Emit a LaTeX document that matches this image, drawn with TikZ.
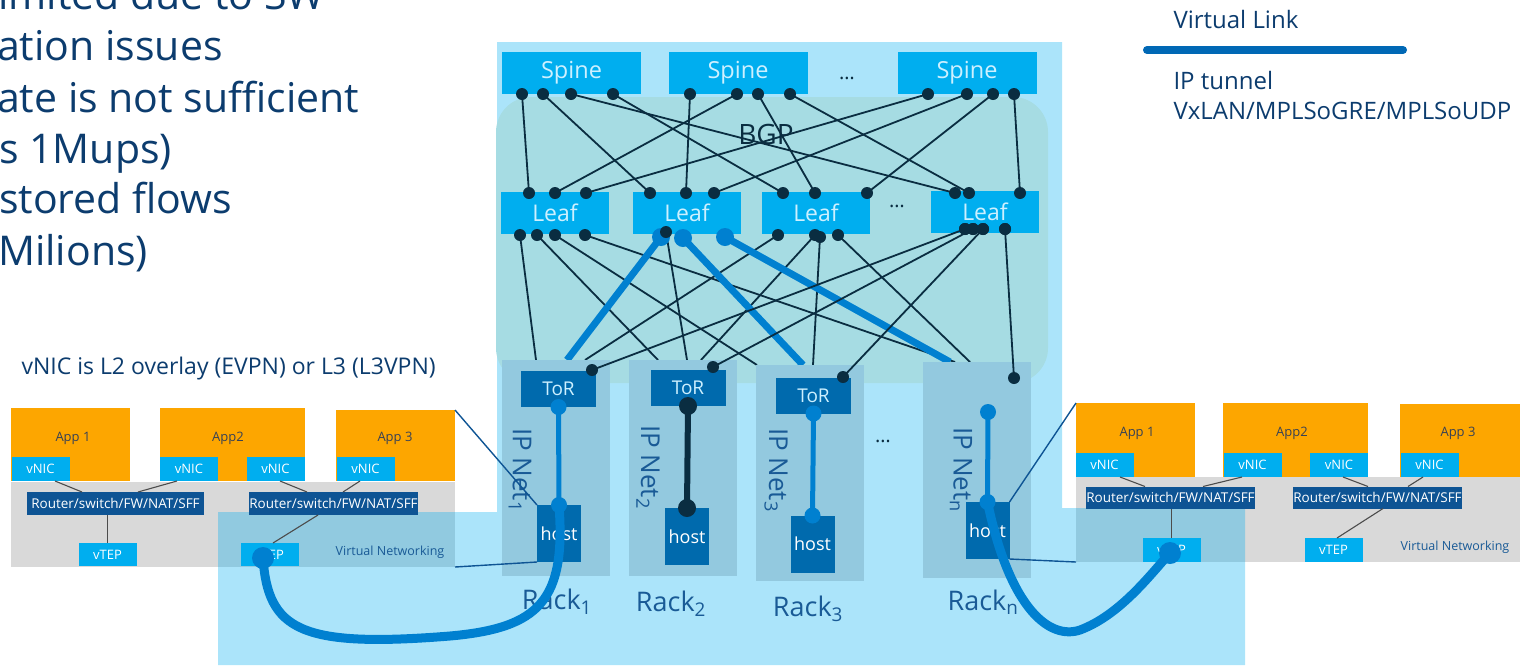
\documentclass[tikz,border=0pt]{standalone}
\usepackage{fontspec}
\setmainfont{Open Sans}
\usetikzlibrary{calc}

\definecolor{cyanbox}{RGB}{0,174,239}
\definecolor{navydot}{RGB}{10,45,65}
\definecolor{linkblue}{RGB}{0,128,208}
\definecolor{legendblue}{RGB}{0,104,181}
\definecolor{torblue}{RGB}{0,106,173}
\definecolor{routerblue}{RGB}{14,84,148}
\definecolor{bgpfill}{RGB}{166,220,227}
\definecolor{rackfill}{RGB}{147,201,223}
\definecolor{appfill}{RGB}{253,166,0}
\definecolor{greyfill}{RGB}{217,217,217}
\definecolor{textnavy}{RGB}{12,60,110}
\definecolor{racktext}{RGB}{25,90,150}
\definecolor{lighttext}{RGB}{205,240,255}
\definecolor{apptext}{RGB}{55,65,85}

\tikzset{
  box/.style={inner sep=0pt, outer sep=0pt},
  spinebox/.style={box, fill=cyanbox, text=lighttext, minimum width=139pt, minimum height=42pt, font=\fontsize{23.5}{26}\selectfont},
  leafbox/.style={box, fill=cyanbox, text=lighttext, minimum width=108pt, minimum height=42pt, font=\fontsize{23}{26}\selectfont},
  rackbox/.style={box, fill=rackfill, minimum width=108pt, minimum height=216pt},
  torbox/.style={box, fill=torblue, text=lighttext, minimum width=75pt, minimum height=36pt, font=\fontsize{19}{22}\selectfont},
  hostbox/.style={box, fill=torblue, text=white, minimum width=44pt, minimum height=57pt, font=\fontsize{18}{22}\selectfont},
  appbox/.style={box, fill=appfill, minimum height=73pt},
  appname/.style={text=apptext, font=\fontsize{13}{15}\selectfont},
  nicbox/.style={box, fill=cyanbox, text=white, minimum width=58pt, minimum height=24pt, font=\fontsize{13}{15}\selectfont},
  routerbox/.style={box, fill=routerblue, text=white, minimum width=169pt, minimum height=22pt, font=\fontsize{13.5}{15}\selectfont},
  vnbox/.style={box, fill=greyfill, minimum width=444pt, minimum height=85pt},
  vnname/.style={text=racktext, font=\fontsize{12.5}{14}\selectfont},
  racklabel/.style={text=racktext, font=\fontsize{27}{30}\selectfont},
  netlabel/.style={text=racktext, rotate=-90, font=\fontsize{26}{30}\selectfont},
  dotsname/.style={text=navydot, font=\fontsize{20}{22}\selectfont},
  legendtext/.style={anchor=west, text=textnavy, font=\fontsize{24}{28}\selectfont},
  wire/.style={navydot, line width=1.8pt},
  vlink/.style={linkblue, line width=7pt},
  tunnel/.style={linkblue, line width=9pt},
  thinwire/.style={black!70, line width=1.1pt},
  zoomwire/.style={routerblue, line width=1.4pt},
}

\begin{document}
\begin{tikzpicture}[x=1pt,y=-1pt]
\useasboundingbox (0,0) rectangle (1536,665);

% cut-off bullet text
\begin{scope}[every node/.style={anchor=base west, inner sep=0pt, text=textnavy, font=\fontsize{41}{51}\selectfont}]
\node (b1) at (-2,9) {imited due to SW};
\node (b2) at (-3,60) {ation issues};
\node (b3) at (-3,112) {ate is not sufficient};
\node (b4) at (-1,163) {s 1Mups)};
\node (b5) at (-1,213) {stored flows};
\node (b6) at (-2,265) {Milions)};
\end{scope}

% legend
\node[legendtext] (vlname) at (1170,19) {Virtual Link};
\coordinate (legA) at (1147,50);
\coordinate (legB) at (1403,50);
\draw[legendblue, line width=8pt, line cap=round] (legA) -- (legB);
\node[legendtext] (tun1) at (1170,80) {IP tunnel};
\node[legendtext] (tun2) at (1170,111) {VxLAN/MPLSoGRE/MPLSoUDP};

% virtual networking boxes
\node[vnbox] (vnL) at (233,524.5) {};
\node[vnbox] (vnR) at (1298,519.5) {};

% data centre area
\fill[cyanbox, opacity=0.33] (497,42) -- (1062,42) -- (1062,508) -- (1245,508)
  -- (1245,665) -- (218,665) -- (218,512) -- (497,512) -- cycle;
\node[box, fill=bgpfill, rounded corners=35pt, minimum width=552pt, minimum height=286pt] (bgp) at (772,240) {};
\node[text=navydot, font=\fontsize{28}{32}\selectfont] (bgpname) at (766,134) {BGP};

% left virtual networking
\node[anchor=west, text=textnavy, font=\fontsize{23}{26}\selectfont] (note) at (18,369) {vNIC is L2 overlay (EVPN) or L3 (L3VPN)};
\node[appbox, minimum width=119pt] (appL1) at (70.5,444.5) {};
\node[appbox, minimum width=145pt] (appL2) at (232.5,444.5) {};
\node[appbox, minimum width=119pt, minimum height=71pt] (appL3) at (395.5,445.5) {};
\node[appname] (appL1t) at (73,438) {App 1};
\node[appname] (appL2t) at (228,438) {App2};
\node[appname] (appL3t) at (395,438) {App 3};
\node[nicbox] (nicL1) at (40.5,469) {vNIC};
\node[nicbox] (nicL2) at (189,469) {vNIC};
\node[nicbox] (nicL3) at (275.5,469) {vNIC};
\node[nicbox] (nicL4) at (365.5,469) {vNIC};
\node[routerbox, minimum width=177pt, minimum height=23pt] (rtL1) at (115.5,503.5) {Router/switch/FW/NAT/SFF};
\node[routerbox, minimum height=23pt] (rtL2) at (333.5,503.5) {Router/switch/FW/NAT/SFF};
\node[nicbox, minimum height=23pt] (tepL1) at (107.5,554.5) {vTEP};
\node[nicbox, minimum height=23pt] (tepL2) at (269.5,554.5) {vTEP};
\node[vnname] (vnLt) at (390,552) {Virtual Networking};
\draw[thinwire] ([xshift=14.5pt]nicL1.south) -- ([xshift=-33.5pt]rtL1.north);
\draw[thinwire] ([xshift=-12pt]nicL2.south) -- ([xshift=22.5pt]rtL1.north);
\draw[thinwire] (tepL1.north) -- (tepL1.north |- rtL1.south);
\draw[thinwire] ([xshift=4.5pt]nicL3.south) -- ([xshift=-26.5pt]rtL2.north);
\draw[thinwire] ([xshift=-5.5pt]nicL4.south) -- ([xshift=9.5pt]rtL2.north);
\draw[thinwire] ([xshift=-15.5pt]rtL2.south) -- ([xshift=3.5pt]tepL2.north);

% right virtual networking
\node[appbox, minimum width=119pt, minimum height=74pt] (appR1) at (1135.5,440) {};
\node[appbox, minimum width=145pt, minimum height=74pt] (appR2) at (1295.5,440) {};
\node[appbox, minimum width=120pt] (appR3) at (1460,440.5) {};
\node[appname] (appR1t) at (1137,433) {App 1};
\node[appname] (appR2t) at (1292,433) {App2};
\node[appname] (appR3t) at (1458,433) {App 3};
\node[nicbox] (nicR1) at (1104.5,465) {vNIC};
\node[nicbox] (nicR2) at (1252.5,465) {vNIC};
\node[nicbox] (nicR3) at (1339,465) {vNIC};
\node[nicbox] (nicR4) at (1429.5,465) {vNIC};
\node[routerbox] (rtR1) at (1170.5,497.5) {Router/switch/FW/NAT/SFF};
\node[routerbox] (rtR2) at (1377.5,497.5) {Router/switch/FW/NAT/SFF};
\node[nicbox] (tepR1) at (1171.5,550) {vTEP};
\node[nicbox] (tepR2) at (1333.5,550) {vTEP};
\node[vnname] (vnRt) at (1455,547) {Virtual Networking};
\draw[thinwire] ([xshift=15.5pt]nicR1.south) -- ([xshift=-25.5pt]rtR1.north);
\draw[thinwire] ([xshift=-10.5pt]nicR2.south) -- ([xshift=32.5pt]rtR1.north);
\draw[thinwire] (tepR1.north) -- (tepR1.north |- rtR1.south);
\draw[thinwire] ([xshift=4pt]nicR3.south) -- ([xshift=-9.5pt]rtR2.north);
\draw[thinwire] ([xshift=-6.5pt]nicR4.south) -- ([xshift=30.5pt]rtR2.north);
\draw[thinwire] ([xshift=5.5pt]rtR2.south) -- ([xshift=3.5pt]tepR2.north);

% spines and leaves
\node[spinebox] (sp1) at (571.5,73) {Spine};
\node[spinebox] (sp2) at (738,73) {Spine};
\node[dotsname] (spdots) at (847,78) {\dots};
\node[spinebox] (sp3) at (967,73) {Spine};
\node[leafbox] (lf1) at (555,213) {Leaf};
\node[leafbox] (lf2) at (687,213) {Leaf};
\node[leafbox] (lf3) at (816,213) {Leaf};
\node[dotsname] (lfdots) at (897,206) {\dots};
\node[leafbox] (lf4) at (985,212) {Leaf};

\foreach \n/\x in {s1a/522,s1b/543,s1c/571,s1d/613,s2a/690,s2b/737,s2c/758,s2d/790,
                   s3a/928,s3b/967,s3c/993,s3d/1014}
  \coordinate (\n) at (\x,94);
\foreach \n/\x in {l1a/529,l1b/555,l1c/586,l2a/650,l2b/686,l2c/714,
                   l3a/783,l3b/815,l3c/867,l4a/955,l4b/969,l4c/1020}
  \coordinate (\n) at (\x,193);
\foreach \a/\b in {s1a/l1a,s1b/l2a,s1c/l4a,s1d/l3a,s2a/l2b,s2b/l1b,s2c/l3b,s2d/l4b,
                   s3a/l1c,s3b/l2c,s3c/l3c,s3d/l4c}
  \draw[wire] (\a) -- (\b);

% leaf to rack
\foreach \n/\x/\y in {l1e/520/235,l1f/537/235,l1g/555/235,l1h/585/235,l2d/666/232,
                      l3e/778/235,l3f/815/235,l3g/820/237,l3h/838/235,
                      l4e/965/229,l4f/973/229,l4g/983/229,l4h/1005/229,
                      vb1/661/237,vb2/683/238,vb3/725/237}
  \coordinate (\n) at (\x,\y);
\foreach \n/\x/\y in {r1a/536/360,r1b/567/360,r1c/585/360,r2a/658/360,r2b/687/360,r2c/701/360,
                      r3a/757/365,r3b/803/365,r3c/813/365,rna/955/362,rnb/950/362,rnc/970/362}
  \coordinate (\n) at (\x,\y);
\foreach \a/\b in {l1e/r1a,l1f/r2a,l1g/r3a,l1h/rna,l2d/r2b,l3e/r1c,l3f/r2c,l3g/r3c,l3h/rnc}
  \draw[wire] (\a) -- (\b);
\foreach \a/\b in {vb1/r1b,vb2/r3b,vb3/rnb}
  \draw[vlink] (\a) -- (\b);
\foreach \n in {vb1,vb2,vb3}
  \fill[linkblue] (\n) circle (9pt);
\foreach \n in {s1a,s1b,s1c,s1d,s2a,s2b,s2c,s2d,s3a,s3b,s3c,s3d,
                l1a,l1b,l1c,l2a,l2b,l2c,l3a,l3b,l3c,l4a,l4b,l4c,
                l1e,l1f,l1g,l1h,l2d,l3e,l3f,l3g,l3h,l4e,l4f,l4g,l4h}
  \fill[navydot] (\n) circle (6pt);

% racks
\node[rackbox] (rk1) at (556,468) {};
\node[rackbox] (rk2) at (683,468) {};
\node[rackbox] (rk3) at (810,473) {};
\node[rackbox] (rkn) at (977,470) {};
\node[torbox] (tor1) at (558.5,389) {ToR};
\node[torbox] (tor2) at (688,388) {ToR};
\node[torbox] (tor3) at (813.5,395.5) {ToR};
\node[hostbox] (h1) at (559,533.5) {host};
\node[hostbox] (h2) at (687,536.5) {host};
\node[hostbox] (h3) at (812.5,544) {host};
\node[hostbox] (hn) at (987.5,530.5) {host};
\node[netlabel] (ip1) at (520,470) {IP Net\textsubscript{1}};
\node[netlabel] (ip2) at (648,467) {IP Net\textsubscript{2}};
\node[netlabel] (ip3) at (776,470) {IP Net\textsubscript{3}};
\node[netlabel] (ipn) at (961,470) {IP Net\textsubscript{n}};
\node[dotsname] (rkdots) at (883,441) {\dots};
\node[racklabel] (rl1) at (557,602) {Rack\textsubscript{1}};
\node[racklabel] (rl2) at (671,604) {Rack\textsubscript{2}};
\node[racklabel] (rl3) at (808,609) {Rack\textsubscript{3}};
\node[racklabel] (rln) at (983,602) {Rack\textsubscript{n}};

% leaf to ToR
\coordinate (td1) at (592,370);
\coordinate (td2) at (713,367);
\coordinate (td3) at (843,377);
\coordinate (tdn) at (1014,378);
\foreach \a/\b in {l4e/td1,l4f/td2,l4g/td3,l4h/tdn}
  \draw[wire] (\a) -- (\b);
\foreach \n in {td1,td2,td3,tdn,l4e,l4f,l4g,l4h}
  \fill[navydot] (\n) circle (6pt);

% ToR to host
\coordinate (tnn) at (988,412);
\draw[linkblue, line width=5pt] (tor1.south) -- (h1.north);
\draw[navydot, line width=6pt] (tor2.south) -- (h2.north);
\draw[linkblue, line width=5pt] (tor3.south) -- (h3.north);
\draw[linkblue, line width=5pt] (tnn) -- (hn.north);
\foreach \n in {tor1.south,h1.north,tor3.south,h3.north,tnn,hn.north}
  \fill[linkblue] (\n) circle (8pt);
\foreach \n in {tor2.south,h2.north}
  \fill[navydot] (\n) circle (9pt);

% host to virtual networking
\draw[zoomwire] (h1.north west) -- (appL3.north east);
\draw[zoomwire] (h1.south west) -- (vnL.south east);
\draw[zoomwire] (hn.north east) -- (appR1.north west);
\draw[zoomwire] (hn.south east) -- (vnR.south west);

% tunnels
\coordinate (tunL) at (263,558);
\coordinate (tunR) at (1170,553);
\coordinate (tunLb) at (450,636);
\coordinate (tunRb) at (1080,630);
\draw[tunnel] (h1.north) .. controls (566,600) and (540,628) .. (tunLb)
  .. controls (300,648) and (268,630) .. (tunL);
\draw[tunnel] (hn.north) .. controls (1010,610) and (1050,640) .. (tunRb)
  .. controls (1120,615) and (1150,575) .. (tunR);
\fill[linkblue] (tunL) circle (11pt);
\fill[linkblue] (tunR) circle (11pt);

\end{tikzpicture}
\end{document}
